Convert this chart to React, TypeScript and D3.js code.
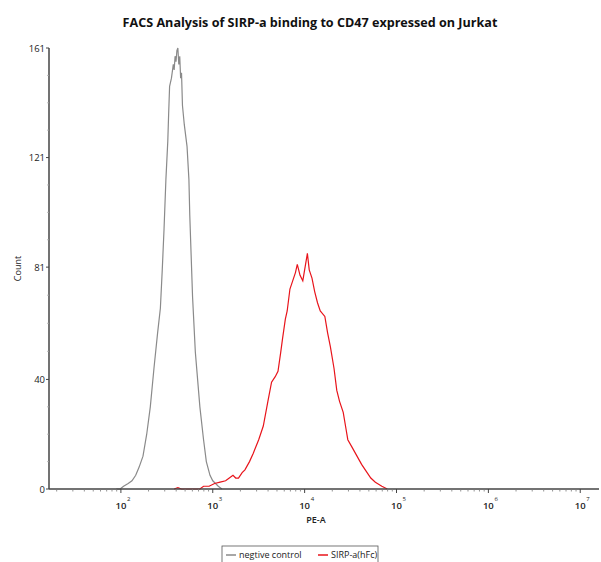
import React from "react";
import * as d3 from "d3";

const negPE = [89, 98, 107, 120, 132, 145, 158, 174, 191, 209, 229, 251, 269, 282, 295, 309, 324, 331, 339, 355, 372, 380, 389, 398, 407, 417, 427, 437, 447, 457, 468, 490, 525, 550, 562, 603, 646, 724, 794, 851, 933, 1000, 1072, 1148, 1259];
const negCount = [0, 0, 1, 2, 3, 5, 8, 12, 20, 30, 44, 57, 66, 80, 95, 113, 127, 137, 147, 150, 155, 153, 158, 156, 160, 161, 155, 158, 150, 152, 140, 133, 125, 113, 100, 70, 50, 30, 18, 10, 5, 3, 2, 1, 0];

const sirpPE = [380, 417, 457, 724, 794, 912, 1047, 1202, 1380, 1514, 1660, 1778, 1905, 2089, 2239, 2512, 2754, 3162, 3548, 3981, 4365, 4786, 5129, 5495, 5754, 6166, 6457, 6918, 7413, 7943, 8318, 8913, 9550, 10233, 10715, 11220, 12023, 12882, 13804, 14791, 16596, 17783, 19055, 20893, 22387, 23988, 26303, 28184, 29512, 33113, 37154, 41687, 47863, 52481, 58884, 69183, 79433];
const sirpCount = [0, 0.5, 0, 0, 1, 1, 2, 2.5, 3, 4, 5, 4, 4, 6, 7, 10, 13, 18, 23, 32, 39, 41, 43, 50, 55, 62, 65, 73, 76, 79, 82, 78, 76, 82, 86, 80, 77, 72, 68, 65, 63, 57, 52, 44, 36, 32, 28, 22, 18, 15, 12, 9, 6, 4, 2.5, 1, 0];

const yTicks = [0, 40, 81, 121, 161];
const xDecades = [2, 3, 4, 5, 6, 7];

const title = "FACS Analysis of SIRP-a binding to CD47 expressed on Jurkat";
const xLabel = "PE-A";
const yLabel = "Count";
const seriesNames = ["negtive control", "SIRP-a(hFc)"];
const seriesColors = ["#8a8a8a", "#e8141b"];

const W = 601, H = 562;
const font = "'Open Sans', sans-serif";

export default function App() {
  const x = d3.scaleLog().domain([16.5, 1.6e7]).range([49, 599]);
  const y = d3.scaleLinear().domain([0, 161]).range([489, 48]);
  const line = d3
    .line<[number, number]>()
    .x((d) => x(d[0]))
    .y((d) => y(d[1]))
    .curve(d3.curveLinear);

  const negData = negPE.map((v, i) => [v, negCount[i]] as [number, number]);
  const sirpData = sirpPE.map((v, i) => [v, sirpCount[i]] as [number, number]);

  const minorX: number[] = [];
  for (let e = 1; e <= 7; e++) {
    for (let m = 2; m <= 9; m++) {
      const v = m * Math.pow(10, e);
      if (v > x.domain()[0] && v < x.domain()[1]) minorX.push(v);
    }
  }
  const minorY: number[] = [];
  for (let i = 0; i < yTicks.length - 1; i++) {
    const a = yTicks[i], b = yTicks[i + 1];
    for (let k = 1; k < 4; k++) minorY.push(a + ((b - a) * k) / 4);
  }

  const x0 = x.range()[0];
  const x1 = x.range()[1];
  const yb = y(0);

  return (
    <div style={{ position: "absolute", left: 0, top: 0 }}>
      <svg width={W} height={H} style={{ display: "block", background: "#fff" }}>
        <text x={310} y={27} textAnchor="middle" fontFamily={font} fontWeight={700} fontSize={12.6} fill="#111">
          {title}
        </text>

        {/* curves */}
        <path d={line(negData) || ""} fill="none" stroke={seriesColors[0]} strokeWidth={1.2} />
        <path d={line(sirpData) || ""} fill="none" stroke={seriesColors[1]} strokeWidth={1.2} />

        {/* y axis */}
        <line x1={x0} x2={x0} y1={y(161)} y2={yb} stroke="#444" strokeWidth={1.5} />
        {minorY.map((v, i) => (
          <line key={"my" + i} x1={x0 - 2} x2={x0} y1={y(v)} y2={y(v)} stroke="#aaa" strokeWidth={0.8} />
        ))}
        {yTicks.map((v) => (
          <g key={"yt" + v}>
            <line x1={x0 - 3} x2={x0} y1={y(v)} y2={y(v)} stroke="#444" strokeWidth={1} />
            <text x={x0 - 4} y={y(v) + 3.5} textAnchor="end" fontFamily={font} fontSize={9.5} fill="#222">
              {v}
            </text>
          </g>
        ))}
        <text
          transform={`translate(21,${(y(161) + yb) / 2}) rotate(-90)`}
          textAnchor="middle"
          fontFamily={font}
          fontSize={9}
          fill="#222"
        >
          {yLabel}
        </text>

        {/* x axis */}
        <line x1={x0} x2={x1} y1={yb} y2={yb} stroke="#444" strokeWidth={1.5} />
        {minorX.map((v, i) => (
          <line key={"mx" + i} x1={x(v)} x2={x(v)} y1={yb} y2={yb + 2.5} stroke="#777" strokeWidth={0.8} />
        ))}
        {xDecades.map((e) => {
          const px = x(Math.pow(10, e));
          return (
            <g key={"xt" + e}>
              <line x1={px} x2={px} y1={yb} y2={yb + 4} stroke="#444" strokeWidth={1} />
              <text x={px} y={y(0) + 20} textAnchor="middle" fontFamily={font} fontSize={9.5} fontWeight={600} fill="#222">
                10
              </text>
              <text x={px + 6} y={y(0) + 12} textAnchor="start" fontFamily={font} fontSize={6} fill="#222">
                {e}
              </text>
            </g>
          );
        })}
        <text x={316} y={523} textAnchor="middle" fontFamily={font} fontSize={9} fontWeight={600} fill="#222">
          {xLabel}
        </text>

        {/* legend */}
        <rect x={222} y={546} width={156} height={20} fill="#fff" stroke="#555" strokeWidth={0.8} />
        <line x1={226} x2={236} y1={555} y2={555} stroke={seriesColors[0]} strokeWidth={1.5} />
        <text x={239} y={558} fontFamily={font} fontSize={9} fill="#222">
          {seriesNames[0]}
        </text>
        <line x1={318} x2={328} y1={555} y2={555} stroke={seriesColors[1]} strokeWidth={1.5} />
        <text x={331} y={558} fontFamily={font} fontSize={9} fill="#222">
          {seriesNames[1]}
        </text>
      </svg>
    </div>
  );
}
